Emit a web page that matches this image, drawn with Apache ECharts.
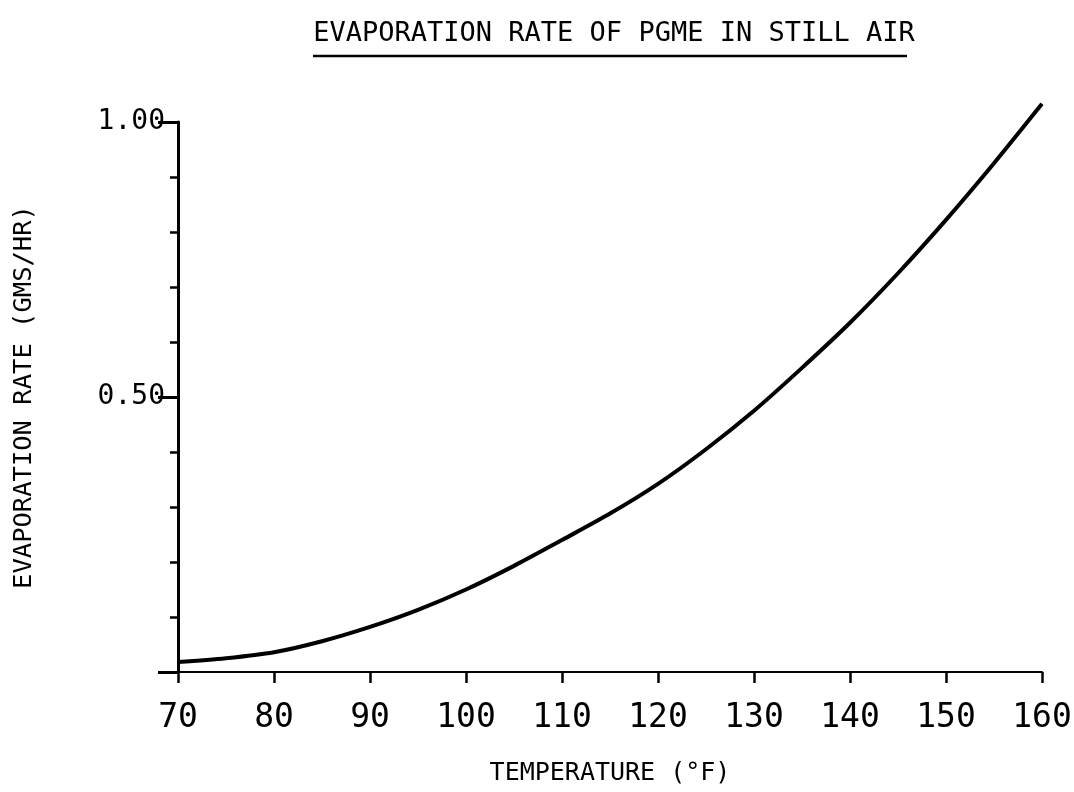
<!DOCTYPE html>
<html>
<head>
<meta charset="utf-8">
<title>Evaporation rate of PGME in still air</title>
<script src="https://cdn.jsdelivr.net/npm/echarts@6/dist/echarts.min.js"></script>
<style>
  html, body { margin: 0; padding: 0; background: #fff; }
  #chart { width: 1074px; height: 792px; }
</style>
</head>
<body>
<div id="chart"></div>
<script>
// Temperature (°F) and evaporation rate (gms/hr) along the curve
const temperatures = [70, 75, 80, 85, 90, 95, 100, 105, 110, 115, 120, 125, 130, 135, 140, 145, 150, 155, 160];
const evapRates = [0.018, 0.025, 0.036, 0.056, 0.082, 0.113, 0.150, 0.193, 0.240, 0.288, 0.342, 0.405, 0.475, 0.553, 0.635, 0.725, 0.822, 0.925, 1.033];

const titleText = 'EVAPORATION RATE OF PGME IN STILL AIR';
const xAxisName = 'TEMPERATURE (°F)';
const yAxisName = 'EVAPORATION RATE (GMS/HR)';

const FONT = 'DejaVu Sans Mono';
const INK = '#000';

const chart = echarts.init(document.getElementById('chart'), null, { renderer: 'canvas' });

chart.setOption({
  backgroundColor: '#fff',
  animation: false,
  title: {
    text: titleText,
    left: 609,
    top: 15,
    textAlign: 'center',
    textStyle: { fontFamily: FONT, fontSize: 27, fontWeight: 'normal', color: INK }
  },
  graphic: [{
    type: 'line',
    shape: { x1: 313, y1: 56, x2: 907, y2: 56 },
    style: { stroke: INK, lineWidth: 2.5 }
  }],
  grid: {
    left: 178, right: 32, top: 122, bottom: 120,
    containLabel: false,
    outerBoundsMode: 'none'
  },
  xAxis: {
    type: 'value',
    min: 70,
    max: 160,
    interval: 10,
    name: xAxisName,
    nameLocation: 'middle',
    nameGap: 89,
    nameTextStyle: { fontFamily: FONT, fontSize: 25, color: INK },
    axisLine: { show: true, lineStyle: { color: INK, width: 2 } },
    axisTick: { show: true, length: 11, lineStyle: { color: INK, width: 2.5 } },
    axisLabel: { fontFamily: FONT, fontSize: 33, color: INK, margin: 30 },
    splitLine: { show: false }
  },
  yAxis: {
    type: 'value',
    min: 0,
    max: 1,
    interval: 0.5,
    name: yAxisName,
    nameLocation: 'middle',
    nameGap: 141,
    nameRotate: 90,
    nameTextStyle: { fontFamily: FONT, fontSize: 25.5, color: INK },
    axisLine: { show: true, lineStyle: { color: INK, width: 3 } },
    axisTick: { show: true, length: 20, lineStyle: { color: INK, width: 3 } },
    minorTick: { show: true, splitNumber: 5, length: 8, lineStyle: { color: INK, width: 2.5 } },
    axisLabel: {
      fontFamily: FONT, fontSize: 28, color: INK, margin: 13,
      formatter: v => (v === 0 ? '' : v.toFixed(2))
    },
    splitLine: { show: false }
  },
  series: [{
    type: 'line',
    data: temperatures.map((t, i) => [t, evapRates[i]]),
    smooth: 0.3,
    symbol: 'none',
    clip: false,
    lineStyle: { color: INK, width: 4 }
  }]
});
</script>
</body>
</html>
